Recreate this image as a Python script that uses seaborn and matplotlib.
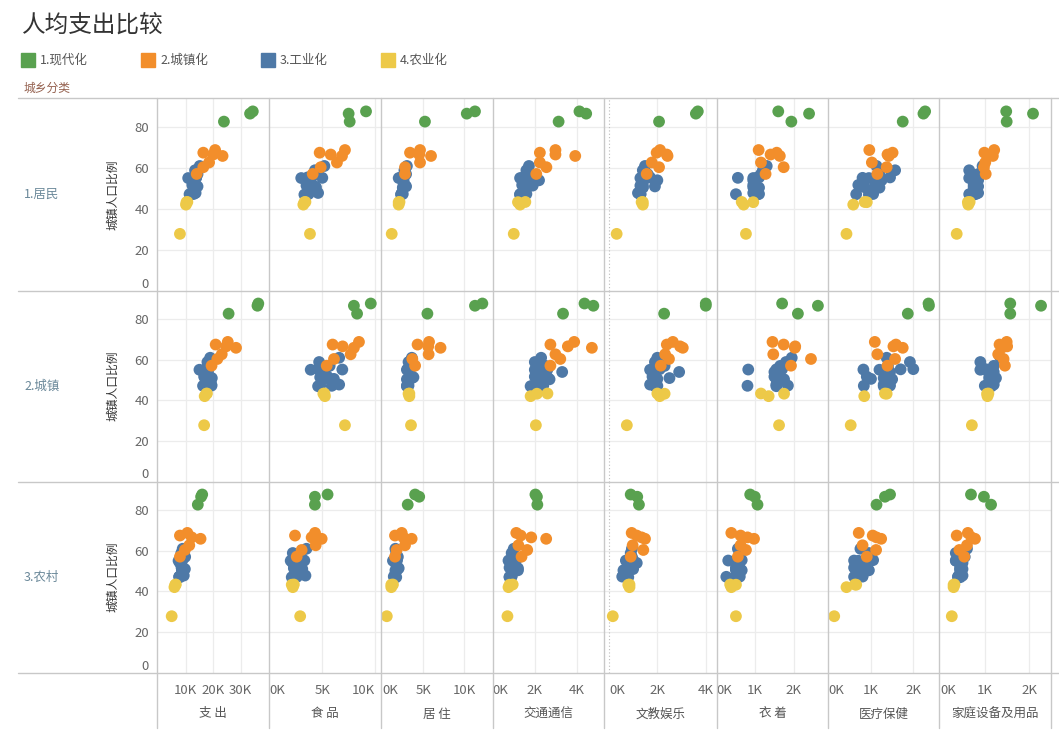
import matplotlib.pyplot as plt
from matplotlib.patches import Rectangle
from matplotlib.lines import Line2D
import seaborn as sns
import pandas as pd

# ---- data -------------------------------------------------------------
provinces = ['上海', '北京', '天津',
             '广东', '辽宁', '江苏', '浙江', '福建', '内蒙古', '山东',
             '重庆', '黑龙江', '湖北', '吉林', '宁夏', '海南', '山西', '陕西', '江西',
             '河北', '湖南', '安徽', '青海', '四川', '新疆', '广西', '河南',
             '云南', '甘肃', '贵州', '西藏']
urban_ratio = [87.6, 86.5, 82.6,
               68.7, 67.4, 66.5, 65.8, 62.6, 60.3, 57.0,
               60.9, 58.8, 56.9, 55.3, 55.2, 55.1, 55.0, 53.9, 51.6,
               51.3, 50.9, 50.5, 50.3, 47.7, 47.2, 47.1, 46.9,
               43.3, 43.2, 42.0, 27.7]
stage = ['1.现代化', '1.现代化', '1.现代化',
         '2.城镇化', '2.城镇化', '2.城镇化', '2.城镇化', '2.城镇化', '2.城镇化', '2.城镇化',
         '3.工业化', '3.工业化', '3.工业化', '3.工业化', '3.工业化', '3.工业化', '3.工业化',
         '3.工业化', '3.工业化', '3.工业化', '3.工业化', '3.工业化', '3.工业化', '3.工业化',
         '3.工业化', '3.工业化', '3.工业化',
         '4.农业化', '4.农业化', '4.农业化', '4.农业化']

stages = ['1.现代化', '2.城镇化', '3.工业化', '4.农业化']
stage_colors = ['#59a14f', '#f28e2b', '#4e79a7', '#edc948']
areas = ['1.居民', '2.城镇', '3.农村']
categories = ['支 出', '食 品', '居 住', '交通通信', '文教娱乐', '衣 着', '医疗保健', '家庭设备及用品']

# 1.居民 (yuan per capita)
r1_total = [34400, 33400, 23900, 20700, 16400, 20000, 23400, 18500, 16400, 14000,
            15100, 13400, 14300, 13800, 13800, 13600, 10900, 13100, 12400, 13000, 14300,
            12800, 13600, 13600, 12900, 11400, 11800, 10600, 10300, 10100, 7900]
r1_food = [9150, 7500, 7600, 7150, 4750, 5800, 6870, 6390, 4850, 4090,
           5200, 4300, 4500, 3600, 3700, 5000, 3000, 3900, 4000, 3500, 4300,
           4400, 3900, 4600, 3700, 3600, 3300, 3400, 3300, 3200, 3830]
r1_housing = [11300, 10300, 5200, 4600, 3380, 4500, 5940, 4600, 2770, 2770,
              3000, 2700, 2900, 2300, 2500, 2300, 2000, 2600, 2600, 2800, 2900,
              2600, 2500, 2400, 2500, 2300, 2300, 2100, 2000, 2000, 1150]
r1_transport = [4120, 4440, 3130, 2980, 2240, 2980, 3920, 2240, 2550, 2070,
                1720, 1600, 1800, 1800, 1900, 1400, 1300, 2200, 1400, 1900, 1700,
                1500, 1600, 1500, 1600, 1300, 1300, 1550, 1200, 1300, 1000]
r1_culture = [3670, 3590, 2070, 2110, 1970, 2390, 2420, 1770, 2070, 1560,
              1490, 1400, 1600, 1700, 1600, 1400, 1300, 2000, 1400, 1300, 1900,
              1400, 1400, 1200, 1300, 1300, 1300, 1400, 1350, 1400, 320]
r1_clothing = [1600, 2400, 1940, 1090, 1560, 1400, 1640, 1150, 1740, 1270,
               1300, 1200, 1150, 1100, 1050, 550, 950, 950, 950, 1000, 1000,
               950, 1100, 950, 1100, 500, 1050, 650, 950, 700, 760]
r1_medical = [2280, 2240, 1750, 960, 1510, 1390, 1420, 1020, 1370, 1150,
              1130, 1570, 1200, 1450, 1150, 800, 950, 1250, 700, 1100, 1100,
              850, 1200, 1000, 1050, 650, 950, 850, 900, 580, 420]
r1_household = [1480, 2080, 1490, 1210, 990, 1160, 1180, 1010, 980, 1020,
                950, 650, 850, 700, 800, 700, 650, 850, 750, 800, 850,
                750, 800, 850, 800, 650, 750, 660, 620, 630, 370]

# 2.城镇
r2_total = [36400, 36100, 25600, 25300, 20900, 24700, 28300, 23100, 21500, 19400,
            18900, 17900, 18200, 17900, 17200, 17500, 15000, 18100, 16700, 17600, 19500,
            17200, 19200, 19300, 19400, 16300, 17200, 17700, 17500, 16900, 16700]
r2_food = [9600, 8000, 8300, 8480, 5980, 6930, 8000, 7690, 6110, 5420,
           6600, 4700, 5700, 4600, 5000, 6900, 3900, 5200, 5500, 4800, 5400,
           6100, 5000, 6600, 4800, 5900, 4600, 5200, 5100, 5250, 7150]
r2_housing = [12200, 11300, 5500, 5700, 4300, 5600, 7100, 5650, 3660, 4000,
              3600, 3200, 3800, 3100, 3100, 3200, 3000, 3300, 3300, 3800, 3600,
              3400, 3000, 3100, 3200, 3000, 3000, 3300, 3200, 3300, 3500]
r2_transport = [4360, 4780, 3340, 3870, 2740, 3570, 4710, 2980, 3210, 2740,
                2300, 2000, 2500, 2200, 2600, 2200, 2000, 3300, 2000, 2600, 2400,
                2100, 2700, 2200, 2400, 1900, 1800, 2600, 2100, 1800, 2050]
r2_culture = [4000, 4000, 2280, 2640, 2390, 2940, 3050, 2320, 2480, 2140,
              2000, 1900, 2300, 2100, 1800, 1900, 1700, 2900, 1800, 1900, 2500,
              2000, 1900, 1700, 1900, 2000, 1900, 2000, 2300, 2100, 740]
r2_clothing = [1700, 2630, 2110, 1450, 1740, 2040, 2030, 1470, 2450, 1930,
               1950, 1800, 1650, 1700, 1550, 820, 1600, 1500, 1500, 1600, 1600,
               1550, 1750, 1550, 1850, 800, 1550, 1150, 1750, 1350, 1620]
r2_medical = [2360, 2370, 1870, 1090, 1590, 1530, 1750, 1150, 1570, 1390,
              1370, 1920, 1400, 2000, 1700, 820, 1200, 1450, 900, 1400, 1300,
              1000, 1500, 1300, 1450, 830, 1300, 1330, 1370, 840, 520]
r2_household = [1570, 2260, 1570, 1490, 1330, 1500, 1380, 1300, 1420, 1450,
                1350, 900, 1200, 1000, 1150, 1050, 900, 1200, 1100, 1150, 1250,
                1100, 1200, 1200, 1100, 1000, 1150, 1080, 1050, 1060, 710]

# 3.农村
r3_total = [16000, 15600, 14400, 10600, 7900, 12200, 15400, 11300, 9700, 7900,
            8900, 8400, 9800, 8800, 8400, 8200, 7400, 7900, 8500, 9000, 9700,
            8900, 8600, 9300, 7700, 7600, 7900, 6400, 6200, 5900, 4900]
r3_food = [5500, 4300, 4300, 4310, 2410, 3990, 4940, 4370, 3040, 2570,
           3500, 2200, 3000, 2300, 2400, 3300, 2000, 2200, 3000, 2300, 3100,
           2900, 2500, 3400, 2400, 2600, 2100, 2300, 2100, 2200, 2900]
r3_housing = [4000, 4500, 3100, 2370, 1550, 2570, 3580, 2770, 1750, 1550,
              1600, 1700, 1900, 1600, 1800, 1500, 1300, 1600, 1900, 2000, 1800,
              1800, 1600, 1500, 1400, 1600, 1700, 1300, 1100, 1100, 550]
r3_transport = [2030, 2100, 2120, 1120, 1330, 1830, 2540, 1220, 1640, 1370,
                1000, 900, 1000, 1100, 1100, 750, 800, 900, 800, 1200, 900,
                900, 1200, 900, 900, 800, 800, 950, 800, 750, 700]
r3_culture = [900, 1170, 1240, 940, 1150, 1350, 1490, 980, 1420, 900,
              950, 900, 950, 1000, 900, 700, 750, 1150, 800, 800, 1000,
              800, 600, 600, 550, 750, 800, 850, 800, 850, 160]
r3_clothing = [870, 990, 1060, 380, 620, 800, 970, 620, 760, 550,
               550, 600, 600, 650, 600, 300, 550, 500, 500, 600, 500,
               500, 650, 500, 600, 250, 550, 350, 500, 380, 500]
r3_medical = [1450, 1330, 1130, 710, 1040, 1130, 1240, 800, 1120, 900,
              750, 950, 1000, 1050, 850, 600, 700, 850, 600, 850, 800,
              750, 950, 800, 800, 600, 700, 620, 650, 420, 130]
r3_household = [690, 980, 1140, 620, 370, 700, 780, 600, 430, 540,
                600, 350, 550, 400, 450, 350, 350, 500, 450, 450, 500,
                450, 450, 500, 400, 400, 450, 320, 300, 300, 260]

spend = {
    '1.居民': [r1_total, r1_food, r1_housing, r1_transport, r1_culture, r1_clothing, r1_medical, r1_household],
    '2.城镇': [r2_total, r2_food, r2_housing, r2_transport, r2_culture, r2_clothing, r2_medical, r2_household],
    '3.农村': [r3_total, r3_food, r3_housing, r3_transport, r3_culture, r3_clothing, r3_medical, r3_household],
}

# long table; blue first so orange / green sit on top like the original
draw_rank = {'3.工业化': 0, '4.农业化': 1, '1.现代化': 2, '2.城镇化': 3}
rows = []
for area in areas:
    for cat, values in zip(categories, spend[area]):
        for p, u, st, v in zip(provinces, urban_ratio, stage, values):
            rows.append({'区域': area, '类别': cat, '省份': p, '城镇人口比例': u, '城乡分类': st, '金额': v})
df = pd.DataFrame(rows)
df['rank'] = df['城乡分类'].map(draw_rank)
df = df.sort_values('rank', kind='stable')

# ---- layout -----------------------------------------------------------
sns.set_style('white')
plt.rcParams['font.family'] = ['Noto Sans CJK SC', 'DejaVu Sans']

W, H = 1059, 730
fig = plt.figure(figsize=(W / 100, H / 100), dpi=100)

col_edges = [157.3, 269.3, 381.3, 492.7, 604.3, 716.7, 828.3, 939.3, 1051.3]
row_edges = [98.3, 290.5, 481.5, 672.5]
x_limits = [(-330, 40400), (-30, 10600), (-120, 13460), (0, 5300),
            (-190, 4450), (0, 2900), (-10, 2615), (-20, 2490)]
x_ticks = [[10000, 20000, 30000], [0, 5000, 10000], [0, 5000, 10000], [0, 2000, 4000],
           [0, 2000, 4000], [0, 1000, 2000], [0, 1000, 2000], [0, 1000, 2000]]
y_ticks = [0, 20, 40, 60, 80]
grid_c = '#ececec'
line_c = '#c8c8c8'
tick_c = '#666666'


def rect(l, t, r, b):
    return [l / W, 1 - b / H, (r - l) / W, (b - t) / H]


palette = dict(zip(stages, stage_colors))
for i, area in enumerate(areas):
    for j, cat in enumerate(categories):
        ax = fig.add_axes(rect(col_edges[j], row_edges[i], col_edges[j + 1], row_edges[i + 1]))
        sub = df[(df['区域'] == area) & (df['类别'] == cat)]
        sns.scatterplot(data=sub, x='金额', y='城镇人口比例', hue='城乡分类', palette=palette,
                        s=72, linewidth=0, alpha=1, legend=False, ax=ax, zorder=3)
        ax.set_xlim(x_limits[j])
        ax.set_ylim(0, 94)
        for v in x_ticks[j]:
            if v != 0:
                ax.axvline(v, color=grid_c, lw=0.9, zorder=0)
        for v in y_ticks[1:]:
            ax.axhline(v, color=grid_c, lw=0.9, zorder=0)
        if j == 4:
            ax.axvline(0, color='#bdbdbd', lw=0.8, ls=(0, (1, 2)), zorder=1)
        for s in ax.spines.values():
            s.set_visible(False)
        ax.set_xlabel('')
        ax.set_ylabel('')

        ax.set_xticks(x_ticks[j])
        if i == 2:
            ax.set_xticklabels([f'{v // 1000}K' for v in x_ticks[j]])
            ax.tick_params(axis='x', length=3, color='#d9d9d9', pad=5,
                           labelsize=9.5, labelcolor=tick_c)
            labels = ax.get_xticklabels()
            if x_ticks[j][0] == 0:
                labels[0].set_ha('left')
            if j == 1:
                labels[-1].set_ha('right')
        else:
            ax.tick_params(axis='x', length=0, labelbottom=False)

        ax.set_yticks(y_ticks)
        if j == 0:
            ax.set_yticklabels([str(v) for v in y_ticks])
            ax.tick_params(axis='y', length=4, color='#e0e0e0', pad=2,
                           labelsize=9.5, labelcolor=tick_c)
            ax.get_yticklabels()[0].set_va('bottom')
        else:
            ax.tick_params(axis='y', length=0, labelleft=False)

# ---- frame, headers and legend ---------------------------------------
bg = fig.add_axes([0, 0, 1, 1])
bg.set_xlim(0, W)
bg.set_ylim(H, 0)
bg.axis('off')
bg.patch.set_visible(False)
bg.set_zorder(10)

for y in row_edges:
    bg.add_line(Line2D([18, W], [y, y], color=line_c, lw=1))
for x in col_edges:
    bg.add_line(Line2D([x, x], [row_edges[0], 728], color=line_c, lw=1))

bg.text(22, 25, '人均支出比较', fontsize=17, color='#333333', ha='left', va='center')

for k, (name, color) in enumerate(zip(stages, stage_colors)):
    x0 = 21 + 120 * k
    bg.add_patch(Rectangle((x0, 53), 14, 14, color=color))
    bg.text(x0 + 19, 60.5, name, fontsize=9, color='#555555', ha='left', va='center')

bg.text(24, 88, '城乡分类', fontsize=8.5, color='#94604e', ha='left', va='center')

for i, area in enumerate(areas):
    yc = (row_edges[i] + row_edges[i + 1]) / 2
    bg.text(24, yc, area, fontsize=9, color='#6a8899', ha='left', va='center')
    bg.text(113, yc, '城镇人口比例', fontsize=8.5, color='#333333', rotation=90,
            ha='center', va='center')

for j, cat in enumerate(categories):
    xc = (col_edges[j] + col_edges[j + 1]) / 2
    bg.text(xc, 714, cat, fontsize=9, color='#555555', ha='center', va='center')

fig.savefig('out.png', dpi=100)
